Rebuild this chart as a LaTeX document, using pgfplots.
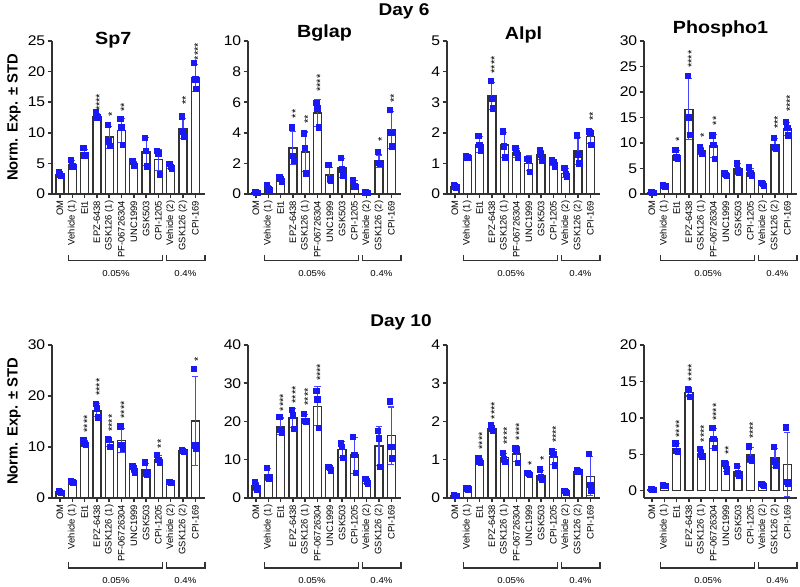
\documentclass[border=0pt]{standalone}
\usepackage{fontspec}
\setmainfont{Liberation Sans}[FakeStretch=1.12]
\newfontfamily\rotfont{Liberation Sans}
\usepackage{pgfplots}
\usepackage{pgfplotstable}
\pgfplotsset{compat=1.18}
\definecolor{pblue}{RGB}{25,25,245}
\definecolor{ebblue}{RGB}{70,70,255}
\definecolor{axgray}{RGB}{50,50,50}

% columns: x mean sd point1 point2 point3 star-base stars
\pgfplotstableread{
x m e a b c sy s
0 3.2 0.25 3.5 3.2 3.0 0 {}
1 4.8 0.6 5.6 4.5 4.4 0 {}
2 6.7 0.6 7.5 6.3 6.4 0 {}
3 12.7 0.5 13.3 12.4 12.5 13.5 ****
4 9.3 1.8 11.3 8.6 7.9 12.6 *
5 10.4 2.0 12.3 10.9 8.0 13.4 **
6 4.9 0.4 5.4 4.7 4.6 0 {}
7 6.9 2.3 9.2 7.0 4.5 0 {}
8 5.6 1.7 7.0 6.6 3.2 0 {}
9 4.5 0.3 4.9 4.4 4.2 0 {}
10 10.7 1.7 12.7 10.2 9.3 14.5 **
11 19.0 2.2 21.4 18.7 17.2 21.8 ****
}\tSpA
\pgfplotstableread{
x m e a b c sy s
0 0.1 0.05 0.15 0.1 0.06 0 {}
1 0.38 0.2 0.6 0.3 0.25 0 {}
2 0.98 0.15 1.12 1.0 0.82 0 {}
3 3.0 1.1 4.35 2.5 2.2 4.93 **
4 2.75 1.3 3.95 3.0 1.35 4.56 **
5 5.3 0.9 5.95 5.6 4.35 6.66 ****
6 1.25 0.5 1.9 1.0 0.9 0 {}
7 1.7 0.6 2.35 1.6 1.2 0 {}
8 0.62 0.25 0.9 0.5 0.45 0 {}
9 0.08 0.04 0.1 0.08 0.06 0 {}
10 2.15 0.4 2.75 2.05 1.95 3.4 *
11 4.2 1.2 5.5 4.0 3.1 5.95 **
}\tBgA
\pgfplotstableread{
x m e a b c sy s
0 0.25 0.04 0.3 0.25 0.22 0 {}
1 1.2 0.04 1.25 1.2 1.18 0 {}
2 1.62 0.25 1.9 1.6 1.4 0 {}
3 3.2 0.45 3.7 3.1 2.8 3.93 ****
4 1.6 0.4 2.05 1.55 1.2 0 {}
5 1.35 0.15 1.5 1.35 1.2 0 {}
6 1.0 0.24 1.15 1.12 0.72 0 {}
7 1.27 0.15 1.42 1.3 1.1 0 {}
8 1.02 0.1 1.12 1.05 0.9 0 {}
9 0.68 0.15 0.85 0.65 0.55 0 {}
10 1.4 0.45 1.92 1.3 1.0 0 {}
11 1.87 0.22 2.05 2.0 1.6 2.39 **
}\tAlA
\pgfplotstableread{
x m e a b c sy s
0 0.3 0.08 0.4 0.3 0.22 0 {}
1 1.6 0.1 1.7 1.6 1.5 0 {}
2 7.6 0.9 8.6 7.2 7.0 10.2 *
3 16.6 6.0 23.2 15.0 11.6 24.7 ****
4 8.4 0.7 9.2 8.5 7.9 10.9 *
5 9.4 2.3 11.5 9.6 6.9 13.4 **
6 3.8 0.2 4.0 3.8 3.6 0 {}
7 4.9 1.0 6.0 4.6 4.1 0 {}
8 4.2 0.8 5.2 4.0 3.6 0 {}
9 1.9 0.3 2.2 2.0 1.6 0 {}
10 9.7 1.1 11.0 9.2 8.9 12.7 ***
11 12.8 1.3 14.1 12.9 11.5 16.0 ****
}\tPhA
\pgfplotstableread{
x m e a b c sy s
0 1.2 0.2 1.4 1.2 1.0 0 {}
1 3.1 0.15 3.3 3.1 3.0 0 {}
2 10.8 0.5 11.4 10.6 10.4 12.8 ****
3 17.2 1.3 18.4 17.6 15.8 19.96 ****
4 11.0 0.9 11.6 11.4 10.0 12.9 ****
5 11.3 2.3 14.0 10.4 9.6 15.5 ****
6 5.7 0.6 6.2 5.8 5.0 0 {}
7 5.5 1.3 7.0 5.0 4.6 0 {}
8 7.6 0.7 8.4 7.5 7.0 9.7 **
9 3.0 0.1 3.1 3.0 2.9 0 {}
10 9.2 0.2 9.4 9.2 9.0 0 {}
11 15.1 8.8 25.3 10.3 9.7 26.6 *
}\tSpB
\pgfplotstableread{
x m e a b c sy s
0 3.1 1.0 4.2 3.0 2.2 0 {}
1 6.1 1.5 7.8 5.5 5.0 0 {}
2 18.7 2.2 21.2 17.8 17.0 22.6 ****
3 20.9 2.4 23.0 21.6 18.1 24.6 ****
4 20.7 1.1 22.0 20.2 20.0 24.1 ****
5 24.0 5.1 28.0 25.8 18.3 30.5 ****
6 7.7 0.5 8.2 7.8 7.2 0 {}
7 12.7 2.0 14.3 13.4 10.5 0 {}
8 11.2 4.7 15.9 11.3 6.5 0 {}
9 4.4 0.6 5.0 4.3 3.8 0 {}
10 13.6 5.0 17.6 15.6 8.2 0 {}
11 16.3 7.5 25.2 13.3 10.4 0 {}
}\tBgB
\pgfplotstableread{
x m e a b c sy s
0 0.07 0.02 0.08 0.06 0.05 0 {}
1 0.25 0.03 0.27 0.25 0.22 0 {}
2 0.97 0.07 1.05 0.95 0.92 1.26 ****
3 1.82 0.08 1.9 1.82 1.75 2.05 ****
4 1.05 0.11 1.18 1.02 0.95 1.39 ****
5 1.15 0.2 1.3 1.24 0.92 1.5 ****
6 0.63 0.03 0.66 0.63 0.6 0.83 *
7 0.59 0.14 0.75 0.55 0.48 0.97 *
8 1.07 0.19 1.22 1.15 0.85 1.43 ****
9 0.15 0.02 0.18 0.15 0.13 0 {}
10 0.7 0.02 0.73 0.7 0.68 0 {}
11 0.57 0.51 1.15 0.35 0.2 0 {}
}\tAlB
\pgfplotstableread{
x m e a b c sy s
0 0.2 0.05 0.25 0.2 0.15 0 {}
1 0.72 0.08 0.8 0.7 0.65 0 {}
2 5.8 0.7 6.5 5.5 5.3 7.27 ****
3 13.5 0.5 13.9 13.8 12.9 15.0 ****
4 5.1 0.55 5.7 5.1 4.6 6.6 ****
5 7.2 1.35 8.6 7.1 5.9 9.55 ****
6 3.3 0.65 3.8 3.5 2.6 4.9 **
7 2.6 0.7 3.4 2.4 2.0 0 {}
8 4.9 1.0 6.1 4.4 4.1 7.05 ****
9 0.8 0.1 0.9 0.8 0.7 0 {}
10 4.5 1.3 6.0 4.0 3.5 0 {}
11 3.6 4.4 8.7 1.2 0.9 0 {}
}\tPhB

\pgfplotsset{
 panel/.style={
  scale only axis, width=76.5pt, height=76.5pt, anchor=south west,
  xmin=-0.65, xmax=11.79,
  axis x line*=bottom, axis y line*=left,
  every non boxed x axis/.append style={x axis line style={-}},
  every non boxed y axis/.append style={y axis line style={-}},
  axis line style={axgray, line width=0.85pt},
  tick align=outside, major tick length=2.2pt,
  tick style={axgray, line width=0.75pt},
  xtick={0,...,11},
  xticklabels={OM,Vehicle (1),EI1,EPZ-6438,GSK126 (1),PF-06726304,UNC1999,GSK503,CPI-1205,Vehicle (2),GSK126 (2),CPI-169},
  x tick label style={rotate=90, anchor=east, font=\rotfont\fontsize{4.7}{5}\selectfont, inner sep=1pt},
  y tick label style={font=\fontsize{7}{8}\selectfont, inner sep=1pt},
  /pgf/number format/assume math mode=true,
  clip=false,
  every axis title shift=0pt,
  title style={font=\bfseries\fontsize{8.8}{10}\selectfont, anchor=center},
  ylabel style={font=\rotfont\bfseries\fontsize{7.4}{8}\selectfont, at={(-0.248,0.5)}, anchor=center},
 }
}

\newcommand{\panelplots}[1]{%
 \addplot[ybar, bar width=4pt, bar shift=0pt, draw=axgray, line width=0.65pt, fill=white,
   error bars/.cd, y dir=both, y explicit,
   error bar style={ebblue, line width=0.55pt},
   error mark options={ebblue, rotate=90, mark size=1.6pt, line width=0.55pt}]
   table[x=x, y=m, y error=e] {#1};
 \addplot[only marks, mark=square*, mark size=1.35pt, pblue] table[x expr=\thisrow{x}-0.1, y=a] {#1};
 \addplot[only marks, mark=square*, mark size=1.35pt, pblue] table[x=x, y=b] {#1};
 \addplot[only marks, mark=square*, mark size=1.35pt, pblue] table[x expr=\thisrow{x}+0.1, y=c] {#1};
 \addplot[only marks, mark=*, mark size=0pt, mark options={draw=none, fill=none},
   point meta=explicit symbolic,
   nodes near coords={\raisebox{-0.6em}{\pgfplotspointmeta}},
   every node near coord/.style={anchor=base west, rotate=90, inner sep=0pt, black, font=\rotfont\fontsize{5.5}{5.5}\selectfont}]
   table[x=x, y=sy, meta=s] {#1};
}

% #1 ymin, #2 bracket-end offset, #3 bracket-line offset, #4 label offset
\newcommand{\brackets}[4]{%
 \draw[axgray, line width=0.6pt] ([yshift=-#2]axis cs:0.675,#1) -- ([yshift=-#3]axis cs:0.675,#1) -- ([yshift=-#3]axis cs:8.32,#1) -- ([yshift=-#2]axis cs:8.32,#1);
 \draw[axgray, line width=0.6pt] ([yshift=-#2]axis cs:8.68,#1) -- ([yshift=-#3]axis cs:8.68,#1) -- ([yshift=-#3]axis cs:11.79,#1) -- ([yshift=-#2]axis cs:11.79,#1);
 \node[font=\fontsize{4.3}{5}\selectfont, inner sep=0pt] at ([yshift=-#4]axis cs:4.55,#1) {0.05\%};
 \node[font=\fontsize{4.3}{5}\selectfont, inner sep=0pt] at ([yshift=-#4]axis cs:10.2,#1) {0.4\%};
}

\begin{document}
\begin{tikzpicture}
\useasboundingbox (0,0) rectangle (400pt,293.5pt);
\node[font=\bfseries\fontsize{8.5}{10}\selectfont] at (202pt,288pt) {Day 6};
\node[font=\bfseries\fontsize{8.5}{10}\selectfont] at (200.5pt,132.5pt) {Day 10};

% ---- Day 6 ----
\begin{axis}[panel, at={(26pt,196.5pt)}, ymin=0, ymax=25, ytick={0,5,...,25},
  title=Sp7, title style={at={(0.4,1.007)}}, ylabel={Norm. Exp. ± STD}]
\panelplots{\tSpA}
\brackets{0}{30.5pt}{33.3pt}{40pt}
\end{axis}
\begin{axis}[panel, at={(124pt,196.5pt)}, ymin=0, ymax=10, ytick={0,2,...,10},
  title=Bglap, title style={at={(0.5,1.052)}}]
\panelplots{\tBgA}
\brackets{0}{30.5pt}{33.3pt}{40pt}
\end{axis}
\begin{axis}[panel, at={(223.5pt,196.5pt)}, ymin=0, ymax=5, ytick={0,1,...,5},
  title=Alpl, title style={at={(0.5,1.04)}}]
\panelplots{\tAlA}
\brackets{0}{30.5pt}{33.3pt}{40pt}
\end{axis}
\begin{axis}[panel, at={(322pt,196.5pt)}, ymin=0, ymax=30, ytick={0,5,...,30},
  title=Phospho1, title style={at={(0.5,1.078)}}]
\panelplots{\tPhA}
\brackets{0}{30.5pt}{33.3pt}{40pt}
\end{axis}

% ---- Day 10 ----
\begin{axis}[panel, at={(26pt,44.5pt)}, ymin=0, ymax=30, ytick={0,10,20,30},
  ylabel={Norm. Exp. ± STD}]
\panelplots{\tSpB}
\brackets{0}{32pt}{35pt}{41.5pt}
\end{axis}
\begin{axis}[panel, at={(124pt,44.5pt)}, ymin=0, ymax=40, ytick={0,10,...,40}]
\panelplots{\tBgB}
\brackets{0}{32pt}{35pt}{41.5pt}
\end{axis}
\begin{axis}[panel, at={(223.5pt,44.5pt)}, ymin=0, ymax=4, ytick={0,1,...,4}]
\panelplots{\tAlB}
\brackets{0}{32pt}{35pt}{41.5pt}
\end{axis}
\begin{axis}[panel, at={(322pt,44.5pt)}, ymin=-1, ymax=20, ytick={0,5,...,20}]
\panelplots{\tPhB}
\brackets{-1}{32pt}{35pt}{41.5pt}
\end{axis}
\end{tikzpicture}
\end{document}
